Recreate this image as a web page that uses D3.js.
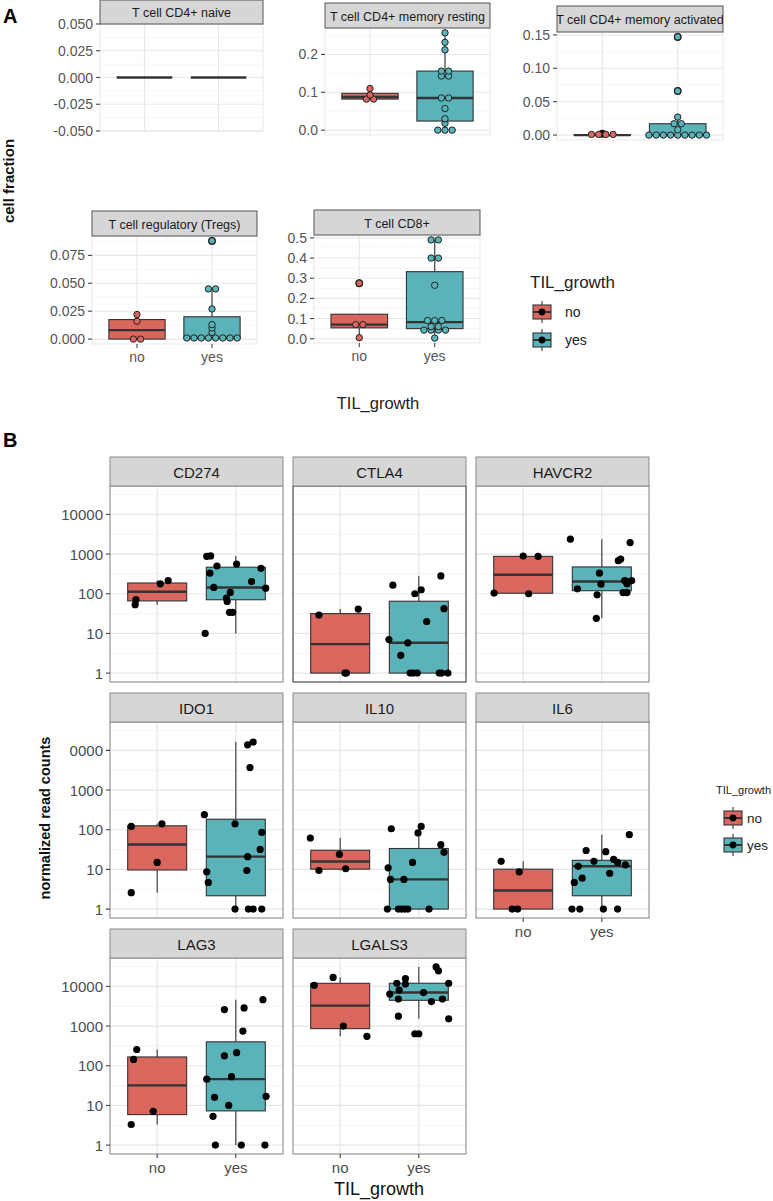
<!DOCTYPE html>
<html>
<head>
<meta charset="utf-8">
<script src="https://cdn.jsdelivr.net/npm/d3@7"></script>
<style>
  body { margin: 0; background: #fff; }
  svg text { font-family: "Liberation Sans", Arial, sans-serif; }
</style>
</head>
<body>
<div id="chart"></div>
<script>
// ---------- data ----------
const groups = ['no', 'yes'];
const fillColors = { no: '#d9675d', yes: '#5bb3ba' };

// panel A: cell fractions per T cell type
const cellTypes = ['T cell CD4+ naive', 'T cell CD4+ memory resting', 'T cell CD4+ memory activated',
  'T cell regulatory (Tregs)', 'T cell CD8+'];
const fracNo = [
  [0, 0, 0, 0],
  [0.11, 0.093, 0.082, 0.082],
  [0.002, 0, 0, 0],
  [0.022, 0.016, 0, 0],
  [0.275, 0.07, 0.07, 0.005]
];
const fracYes = [
  [0, 0, 0, 0, 0, 0, 0, 0, 0, 0, 0, 0, 0, 0, 0],
  [0.257, 0.232, 0.212, 0.16, 0.152, 0.143, 0.143, 0.085, 0.085, 0.057, 0.03, 0.018, 0, 0, 0],
  [0.147, 0.066, 0.027, 0.017, 0.017, 0.008, 0, 0, 0, 0, 0, 0, 0, 0, 0],
  [0.088, 0.045, 0.045, 0.027, 0.013, 0.01, 0.006, 0.001, 0.001, 0.001, 0.001, 0.001, 0.001, 0.001, 0.001],
  [0.49, 0.49, 0.4, 0.4, 0.265, 0.098, 0.082, 0.082, 0.06, 0.06, 0.05, 0.05, 0.035, 0.035, 0.003]
];
const fracTicks = [
  [-0.05, -0.025, 0, 0.025, 0.05],
  [0, 0.1, 0.2],
  [0, 0.05, 0.1, 0.15],
  [0, 0.025, 0.05, 0.075],
  [0, 0.1, 0.2, 0.3, 0.4, 0.5]
];

// panel B: normalized read counts per gene (jitter = x offset in category units)
const genes = ['CD274', 'CTLA4', 'HAVCR2', 'IDO1', 'IL10', 'IL6', 'LAG3', 'LGALS3'];
const countsNo = [
  [53, 71, 178, 215],
  [29, 41, 1, 1],
  [890, 870, 104, 100],
  [121, 141, 15, 2.6],
  [62, 24, 9.4, 10.4],
  [16, 8.7, 1, 1],
  [257, 144, 7.1, 3.3],
  [10700, 16800, 1000, 550]
];
const jitterNo = [
  [-0.28, -0.27, 0.04, 0.14],
  [-0.27, 0.23, 0.06, 0.08],
  [0, 0.19, -0.37, 0.07],
  [-0.33, 0.06, 0, -0.33],
  [-0.38, -0.01, -0.27, 0.07],
  [-0.28, -0.05, -0.14, -0.07],
  [-0.26, -0.3, -0.05, -0.33],
  [-0.33, -0.09, 0.04, 0.34]
];
const countsYes = [
  [880, 900, 500, 330, 144, 108, 78, 64, 34, 34, 10, 560, 203, 437, 138],
  [164, 282, 126, 100, 42, 20, 7, 5.8, 2.8, 1, 1, 1, 1, 1, 1],
  [2370, 1950, 680, 750, 330, 174, 133, 94, 24, 204, 215, 178, 107, 107, 215],
  [13800, 16200, 3700, 240, 141, 86, 32, 21, 9.4, 8.7, 4.7, 1, 1, 1, 1],
  [106, 121, 83, 42, 27, 15, 11, 5.6, 5.6, 1, 1, 1, 1, 1, 1],
  [75, 30, 28, 18, 16, 15, 13, 12, 8, 6, 4.7, 1, 1, 1, 1],
  [4640, 2600, 2870, 750, 178, 214, 53, 46, 16, 17, 10, 5.3, 1, 1, 1],
  [31000, 24700, 15800, 12000, 12000, 11500, 8100, 6400, 7000, 4800, 4800, 4150, 1780, 1520, 640]
];
const jitterYes = [
  [-0.37, -0.32, -0.24, -0.33, -0.28, -0.07, -0.12, -0.11, -0.08, -0.04, -0.39, 0.01, 0.2, 0.32, 0.38],
  [-0.33, 0.28, 0.03, -0.05, 0.32, 0.1, -0.38, -0.14, -0.23, -0.11, -0.07, -0.02, 0.26, 0.29, 0.37],
  [-0.4, 0.36, 0.21, 0.24, -0.03, -0.01, -0.31, -0.06, -0.07, 0.31, 0.38, 0.32, 0.27, 0.32, 0.29],
  [0.15, 0.22, 0.18, -0.4, -0.01, 0.33, 0.31, 0.15, 0.14, -0.37, -0.35, -0.01, 0.16, 0.22, 0.33],
  [-0.35, 0.03, -0.01, 0.28, 0.32, -0.08, -0.39, -0.36, -0.19, -0.4, -0.26, -0.22, -0.18, -0.14, 0.13],
  [0.35, -0.2, 0.05, 0.15, -0.1, 0.2, 0.3, -0.3, 0.1, -0.25, -0.35, -0.38, -0.28, 0.02, 0.2],
  [0.345, -0.145, 0.105, 0.09, -0.145, 0.01, -0.055, -0.37, -0.27, 0.385, -0.09, -0.29, -0.26, 0.07, 0.37],
  [0.22, 0.25, -0.17, -0.28, 0.38, -0.17, -0.25, -0.37, 0.06, -0.26, 0.3, 0.16, -0.26, 0.38, -0.05]
];
const logTicks = [1, 10, 100, 1000, 10000];

// ---------- layout ----------
const layoutA = [
  { x: 100, y: 24, w: 163, h: 107, strip: 24, xlab: false },
  { x: 325, y: 28, w: 165, h: 107, strip: 25, xlab: false },
  { x: 557, y: 32, w: 166, h: 108, strip: 26, xlab: false },
  { x: 92, y: 236, w: 165, h: 108, strip: 25, xlab: true },
  { x: 314, y: 235, w: 166, h: 108, strip: 25, xlab: true }
];
const bCols = [110, 293, 476], bRows = [457, 693, 929];
const bW = 173, bStrip = 29, bH = 196;

const svg = d3.select('#chart').append('svg')
  .attr('width', 773).attr('height', 1201);
const defs = svg.append('defs');

function boxStats(vals) {
  const s = vals.slice().sort(d3.ascending);
  const q1 = d3.quantile(s, 0.25), med = d3.quantile(s, 0.5), q3 = d3.quantile(s, 0.75);
  const iqr = q3 - q1;
  const inRange = v => v >= q1 - 1.5 * iqr - 1e-12 && v <= q3 + 1.5 * iqr + 1e-12;
  const inside = s.filter(inRange);
  return { q1, med, q3, lo: d3.min(inside), hi: d3.max(inside), out: s.filter(v => !inRange(v)) };
}

// dot-density binning like geom_dotplot
function dotBins(vals, bw) {
  const s = vals.slice().sort(d3.ascending);
  const bins = [];
  let cur = null;
  s.forEach(v => {
    if (cur && v - cur.start < bw) cur.vals.push(v);
    else { cur = { start: v, vals: [v] }; bins.push(cur); }
  });
  return bins.map(b => ({ c: (b.vals[0] + b.vals[b.vals.length - 1]) / 2, n: b.vals.length }));
}

// smallest number of decimals that shows every tick exactly
function decimalsFor(ticks) {
  for (let d = 0; d < 6; d++) {
    if (ticks.every(t => Math.abs(+t.toFixed(d) - t) < 1e-9)) return d;
  }
  return 6;
}

function drawWhiskers(g, st, cx, y, toY) {
  g.append('line').attr('x1', cx).attr('x2', cx)
    .attr('y1', y(toY(st.q3))).attr('y2', y(toY(st.hi)))
    .attr('stroke', '#333').attr('stroke-width', 1.1);
  g.append('line').attr('x1', cx).attr('x2', cx)
    .attr('y1', y(toY(st.q1))).attr('y2', y(toY(st.lo)))
    .attr('stroke', '#333').attr('stroke-width', 1.1);
}

function strip(g, x, y, w, h, label, fs, stroke, clipId) {
  defs.append('clipPath').attr('id', clipId)
    .append('rect').attr('x', x).attr('y', y).attr('width', w).attr('height', h);
  g.append('rect').attr('x', x).attr('y', y).attr('width', w).attr('height', h)
    .attr('fill', '#d6d6d6').attr('stroke', stroke).attr('stroke-width', 1);
  g.append('text').attr('x', x + w / 2).attr('y', y + h / 2 + 1)
    .attr('clip-path', `url(#${clipId})`)
    .attr('text-anchor', 'middle').attr('dominant-baseline', 'central')
    .attr('font-size', fs).attr('fill', '#1a1a1a').text(label);
}

// ---------- panel A ----------
svg.append('text').attr('x', 3).attr('y', 23).attr('font-size', 20).attr('font-weight', 'bold').text('A');

cellTypes.forEach((name, i) => {
  const L = layoutA[i];
  const g = svg.append('g');
  const all = fracNo[i].concat(fracYes[i]);
  const [mn, mx] = d3.extent(all);
  const pad = (mx - mn) * 0.05;
  const dom = mx > mn ? [mn - pad, mx + pad] : [mn - 0.05, mx + 0.05];
  const y = d3.scaleLinear().domain(dom).range([L.y + L.h, L.y]);
  const x = d3.scalePoint().domain(groups).range([L.x, L.x + L.w]).padding(0.6);
  const step = x.step();
  const ticks = fracTicks[i];
  const tstep = ticks[1] - ticks[0];
  const dec = decimalsFor(ticks);

  g.append('rect').attr('x', L.x).attr('y', L.y).attr('width', L.w).attr('height', L.h)
    .attr('fill', '#fff');
  // minor grid
  const minors = [];
  for (let v = ticks[0] - tstep / 2; v <= dom[1]; v += tstep) if (v >= dom[0]) minors.push(v);
  g.selectAll(null).data(minors).enter().append('line')
    .attr('x1', L.x).attr('x2', L.x + L.w).attr('y1', d => y(d)).attr('y2', d => y(d))
    .attr('stroke', '#f0f0f0').attr('stroke-width', 0.6);
  g.selectAll(null).data(ticks).enter().append('line')
    .attr('x1', L.x).attr('x2', L.x + L.w).attr('y1', d => y(d)).attr('y2', d => y(d))
    .attr('stroke', '#e8e8e8').attr('stroke-width', 1.1);
  g.selectAll(null).data(groups).enter().append('line')
    .attr('x1', d => x(d)).attr('x2', d => x(d)).attr('y1', L.y).attr('y2', L.y + L.h)
    .attr('stroke', '#e8e8e8').attr('stroke-width', 1.1);
  g.append('rect').attr('x', L.x).attr('y', L.y).attr('width', L.w).attr('height', L.h)
    .attr('fill', 'none').attr('stroke', '#e3e3e3').attr('stroke-width', 0.8);

  // y axis
  ticks.forEach(t => {
    g.append('line').attr('x1', L.x - 4).attr('x2', L.x).attr('y1', y(t)).attr('y2', y(t))
      .attr('stroke', '#444').attr('stroke-width', 1.1);
    g.append('text').attr('x', L.x - 7).attr('y', y(t)).attr('text-anchor', 'end')
      .attr('dominant-baseline', 'central').attr('font-size', 14).attr('fill', '#555')
      .text(t.toFixed(dec));
  });
  if (L.xlab) {
    groups.forEach(gr => {
      g.append('line').attr('x1', x(gr)).attr('x2', x(gr)).attr('y1', L.y + L.h).attr('y2', L.y + L.h + 4)
        .attr('stroke', '#444').attr('stroke-width', 1.1);
      g.append('text').attr('x', x(gr)).attr('y', L.y + L.h + 18).attr('text-anchor', 'middle')
        .attr('font-size', 14).attr('fill', '#555').text(gr);
    });
  }

  const bw = (mx - mn) / 30;
  const series = { no: fracNo[i], yes: fracYes[i] };
  groups.forEach(gr => {
    const st = boxStats(series[gr]);
    const cx = x(gr), half = step * 0.75 / 2;
    drawWhiskers(g, st, cx, y, v => v);
    g.append('rect').attr('x', cx - half).attr('y', y(st.q3)).attr('width', half * 2)
      .attr('height', Math.max(0, y(st.q1) - y(st.q3)))
      .attr('fill', fillColors[gr]).attr('stroke', '#333').attr('stroke-width', 1.1);
    g.append('line').attr('x1', cx - half).attr('x2', cx + half).attr('y1', y(st.med)).attr('y2', y(st.med))
      .attr('stroke', '#333').attr('stroke-width', 2.4);
    st.out.forEach(v => g.append('circle').attr('cx', cx).attr('cy', y(v)).attr('r', 3.9).attr('fill', '#111'));
    if (bw > 0) {
      dotBins(series[gr], bw).forEach(b => {
        for (let k = 0; k < b.n; k++) {
          g.append('circle').attr('cx', cx + (k - (b.n - 1) / 2) * 7.2).attr('cy', y(b.c)).attr('r', 3.2)
            .attr('fill', fillColors[gr]).attr('stroke', '#222').attr('stroke-width', 1);
        }
      });
    }
  });
  strip(g, L.x, L.y - L.strip, L.w, L.strip, name, 12.5, '#555', 'clipA' + i);
});

svg.append('text').attr('transform', 'translate(14,181) rotate(-90)').attr('text-anchor', 'middle')
  .attr('font-size', 15).attr('font-weight', 'bold').attr('fill', '#111').text('cell fraction');
svg.append('text').attr('x', 378).attr('y', 409).attr('text-anchor', 'middle')
  .attr('font-size', 16.5).attr('fill', '#222').text('TIL_growth');

function legend(x, y, titleX, titleSize, gap, labelSize, labelDx) {
  const g = svg.append('g');
  g.append('text').attr('x', titleX).attr('y', y).attr('font-size', titleSize)
    .attr('fill', '#222').text('TIL_growth');
  groups.forEach((gr, k) => {
    const cy = y + 24 + k * gap, kx = x + 2;
    g.append('line').attr('x1', kx + 10).attr('x2', kx + 10).attr('y1', cy - 11).attr('y2', cy + 11)
      .attr('stroke', '#333').attr('stroke-width', 1.1);
    g.append('rect').attr('x', kx + 1).attr('y', cy - 7).attr('width', 18).attr('height', 14)
      .attr('fill', fillColors[gr]).attr('stroke', '#333').attr('stroke-width', 1.1);
    g.append('line').attr('x1', kx + 1).attr('x2', kx + 19).attr('y1', cy).attr('y2', cy)
      .attr('stroke', '#333').attr('stroke-width', 2);
    g.append('circle').attr('cx', kx + 10).attr('cy', cy).attr('r', 3.4).attr('fill', '#000');
    g.append('text').attr('x', x + labelDx).attr('y', cy).attr('dominant-baseline', 'central')
      .attr('font-size', labelSize).attr('fill', '#222').text(gr);
  });
}
legend(530, 288, 530, 17, 28, 14, 35);

// ---------- panel B ----------
svg.append('text').attr('x', 3).attr('y', 447).attr('font-size', 20).attr('font-weight', 'bold').text('B');

const allLog = countsNo.concat(countsYes).flat().map(Math.log10);
const [lmin, lmax] = d3.extent(allLog);
const lpad = (lmax - lmin) * 0.05;
const minorLog = d3.range(-0.5, 5, 1).filter(v => v >= lmin - lpad && v <= lmax + lpad);

defs.append('clipPath').attr('id', 'row2clip')
  .append('rect').attr('x', 69.5).attr('y', 0).attr('width', 800).attr('height', 1201);

genes.forEach((gene, i) => {
  const col = i % 3, row = Math.floor(i / 3);
  const px = bCols[col], top = bRows[row] + bStrip;
  const g = svg.append('g');
  const y = d3.scaleLog().domain([10 ** (lmin - lpad), 10 ** (lmax + lpad)]).range([top + bH, top]);
  const x = d3.scalePoint().domain(groups).range([px, px + bW]).padding(0.6);
  const step = x.step();

  g.append('rect').attr('x', px).attr('y', top).attr('width', bW).attr('height', bH).attr('fill', '#fff');
  g.selectAll(null).data(minorLog).enter().append('line')
    .attr('x1', px).attr('x2', px + bW).attr('y1', d => y(10 ** d)).attr('y2', d => y(10 ** d))
    .attr('stroke', '#f0f0f0').attr('stroke-width', 0.7);
  g.selectAll(null).data(logTicks).enter().append('line')
    .attr('x1', px).attr('x2', px + bW).attr('y1', d => y(d)).attr('y2', d => y(d))
    .attr('stroke', '#e6e6e6').attr('stroke-width', 1.2);
  g.selectAll(null).data(groups).enter().append('line')
    .attr('x1', d => x(d)).attr('x2', d => x(d)).attr('y1', top).attr('y2', top + bH)
    .attr('stroke', '#e6e6e6').attr('stroke-width', 1.2);

  const series = { no: [countsNo[i], jitterNo[i]], yes: [countsYes[i], jitterYes[i]] };
  groups.forEach(gr => {
    const [vals, jit] = series[gr];
    const st = boxStats(vals.map(Math.log10));
    const cx = x(gr), half = step * 0.75 / 2;
    drawWhiskers(g, st, cx, y, v => 10 ** v);
    g.append('rect').attr('x', cx - half).attr('y', y(10 ** st.q3)).attr('width', half * 2)
      .attr('height', Math.max(0, y(10 ** st.q1) - y(10 ** st.q3)))
      .attr('fill', fillColors[gr]).attr('stroke', '#333').attr('stroke-width', 1.1);
    g.append('line').attr('x1', cx - half).attr('x2', cx + half)
      .attr('y1', y(10 ** st.med)).attr('y2', y(10 ** st.med))
      .attr('stroke', '#333').attr('stroke-width', 2.4);
    st.out.forEach(v => g.append('circle').attr('cx', cx).attr('cy', y(10 ** v)).attr('r', 3.6).attr('fill', '#000'));
    vals.forEach((v, k) => {
      g.append('circle').attr('cx', cx + jit[k] * step).attr('cy', y(v)).attr('r', 3.6).attr('fill', '#000');
    });
  });

  g.append('rect').attr('x', px).attr('y', top).attr('width', bW).attr('height', bH)
    .attr('fill', 'none').attr('stroke', gene === 'CTLA4' ? '#3a3a3a' : '#8a8a8a').attr('stroke-width', 1.1);
  strip(g, px, bRows[row], bW, bStrip, gene, 15, '#8a8a8a', 'clipB' + i);

  if (col === 0) {
    const ax = g.append('g');
    if (row === 1) ax.attr('clip-path', 'url(#row2clip)');
    logTicks.forEach(t => {
      ax.append('line').attr('x1', px - 4).attr('x2', px).attr('y1', y(t)).attr('y2', y(t))
        .attr('stroke', '#444').attr('stroke-width', 1.1);
      ax.append('text').attr('x', px - 7).attr('y', y(t)).attr('text-anchor', 'end')
        .attr('dominant-baseline', 'central').attr('font-size', 15).attr('fill', '#4d4d4d').text(t);
    });
  }
  if (i + 3 >= genes.length) {
    groups.forEach(gr => {
      g.append('line').attr('x1', x(gr)).attr('x2', x(gr)).attr('y1', top + bH).attr('y2', top + bH + 4)
        .attr('stroke', '#444').attr('stroke-width', 1.1);
      g.append('text').attr('x', x(gr)).attr('y', top + bH + 19).attr('text-anchor', 'middle')
        .attr('font-size', 15).attr('fill', '#4d4d4d').text(gr);
    });
  }
});

svg.append('text').attr('transform', 'translate(50,818) rotate(-90)').attr('text-anchor', 'middle')
  .attr('font-size', 14.5).attr('font-weight', 'bold').attr('fill', '#111').text('normalized read counts');
svg.append('text').attr('x', 379).attr('y', 1195).attr('text-anchor', 'middle')
  .attr('font-size', 18).attr('fill', '#111').text('TIL_growth');
legend(721, 794, 716, 11, 27, 13.5, 26);
</script>
</body>
</html>
